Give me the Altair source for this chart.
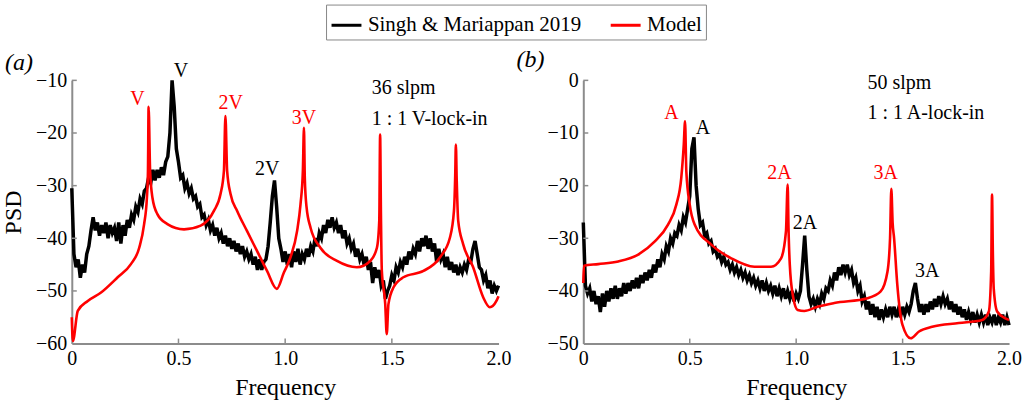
import altair as alt
import pandas as pd

SERIES = ["Singh & Mariappan 2019", "Model"]
COLORS = ["#000000", "#ff0000"]
FONT = "Liberation Serif"

# Experimental PSD (black), sampled every 0.01 in frequency from 0 to 2.0
black_a = [
    -30.5, -43.0, -45.5, -44.0, -47.5, -45.0, -46.5, -43.0, -41.5, -38.5,
    -36.0, -38.5, -37.0, -39.5, -37.5, -39.0, -37.0, -40.0, -37.5, -39.0,
    -38.0, -40.5, -37.0, -41.0, -37.5, -39.5, -36.5, -38.0, -35.5, -36.5,
    -34.0, -35.0, -32.5, -33.5, -31.0, -30.5, -28.5, -29.5, -27.0, -29.0,
    -27.0, -28.5, -26.5, -28.0, -25.5, -24.5, -20.0, -10.0, -15.0, -23.0,
    -25.5, -28.5, -28.0, -30.5, -29.5, -31.5, -30.5, -32.5, -32.0, -34.0,
    -33.5, -36.0, -35.5, -37.5, -36.5, -38.5, -37.5, -39.5, -38.0, -40.0,
    -39.0, -41.0, -39.5, -41.5, -40.0, -42.0, -40.5, -42.5, -41.0, -43.0,
    -41.5, -43.5, -42.5, -44.0, -43.0, -45.0, -43.5, -46.0, -44.0, -46.0,
    -44.5, -44.0, -41.5, -37.0, -32.0, -29.0, -34.0, -40.0, -42.0, -44.5,
    -42.5, -45.0, -43.0, -45.5, -42.5, -44.5, -42.0, -45.0, -43.0, -44.0,
    -42.0, -43.5, -41.5, -42.5, -40.0, -41.5, -39.0, -40.0, -37.5, -39.0,
    -36.5, -38.0, -36.0, -38.0, -37.0, -39.0, -37.5, -40.0, -38.5, -41.0,
    -40.0, -42.0, -41.0, -43.5, -42.0, -44.0, -43.0, -45.0, -43.5, -46.0,
    -44.5, -48.5, -45.5, -47.5, -46.0, -49.0, -48.0, -51.5, -50.0, -49.0,
    -47.0, -48.0, -45.5, -46.5, -44.5, -45.5, -43.5, -45.0, -42.5, -44.0,
    -42.0, -43.0, -40.5, -42.5, -40.0, -41.5, -39.5, -42.0, -40.0, -42.5,
    -41.0, -44.5, -42.0, -44.0, -43.0, -45.5, -43.5, -46.0, -44.5, -46.5,
    -45.0, -47.0, -45.5, -46.5, -45.0, -46.0, -44.0, -44.5, -42.0, -40.5,
    -43.0, -45.5, -46.0, -48.0, -47.0, -49.5, -48.0, -50.5, -49.0, -50.0,
    -49.0,
]

black_b = [
    -27.0, -39.0, -40.5, -39.5, -42.0, -40.0, -42.5, -41.0, -44.0, -40.5,
    -43.0, -40.0, -42.0, -39.5, -41.5, -39.0, -41.5, -39.5, -41.0, -38.5,
    -40.5, -38.5, -40.0, -38.0, -39.5, -37.5, -39.5, -37.0, -38.5, -36.5,
    -38.0, -36.0, -37.5, -35.0, -36.5, -34.0, -35.5, -33.0, -34.0, -31.5,
    -32.5, -30.0, -31.0, -29.0, -29.5, -27.5, -28.5, -26.0, -27.0, -24.5,
    -22.0, -13.0, -10.8, -20.0, -24.5, -27.5, -27.0, -29.5, -29.0, -31.0,
    -30.5, -32.5, -32.0, -33.5, -33.0, -34.5, -33.5, -35.0, -34.5, -36.0,
    -35.0, -36.5, -35.5, -37.0, -36.0, -37.5, -36.5, -38.0, -37.0, -38.5,
    -37.5, -39.0, -38.0, -39.5, -38.0, -40.0, -38.5, -40.0, -39.0, -40.5,
    -39.0, -41.0, -39.5, -41.0, -39.5, -41.5, -40.0, -41.5, -40.0, -42.0,
    -40.5, -41.5, -40.0, -35.0, -29.5, -36.0, -41.0, -42.5, -41.5, -43.0,
    -41.5, -42.5, -40.5, -41.5, -39.5, -40.0, -38.0, -39.0, -36.5, -38.0,
    -35.5, -37.0, -35.0, -36.5, -35.0, -37.0, -36.0, -38.5, -37.5, -40.0,
    -39.0, -42.0, -41.0, -43.5, -42.0, -44.5, -42.5, -45.0, -43.0, -45.5,
    -43.5, -45.0, -43.5, -45.0, -43.0, -44.5, -43.0, -45.0, -43.5, -45.0,
    -43.0, -44.5, -43.0, -44.0, -42.5, -40.0, -38.5, -41.5, -44.0, -42.5,
    -44.5, -42.5, -44.0, -42.0, -43.5, -41.5, -43.0, -41.0, -42.5, -41.0,
    -42.5, -41.5, -43.5, -42.0, -44.0, -42.5, -44.5, -43.0, -45.0, -43.5,
    -45.5, -44.0, -45.5, -44.0, -46.0, -44.5, -46.0, -44.5, -46.0, -44.5,
    -46.5, -45.0, -46.0, -44.5, -46.5, -45.0, -46.0, -44.5, -46.5, -45.0,
    -46.5,
]

# Model PSD (red)
model_a_f = [0.0, 0.005, 0.028, 0.075, 0.137, 0.215, 0.277, 0.316, 0.339, 0.352,
             0.357, 0.360, 0.367, 0.378, 0.401, 0.448, 0.526, 0.604, 0.666, 0.697,
             0.713, 0.720, 0.728, 0.744, 0.775, 0.821, 0.868, 0.915, 0.961, 0.994,
             1.025, 1.056, 1.072, 1.083, 1.088, 1.092, 1.100, 1.119, 1.165, 1.243,
             1.336, 1.399, 1.430, 1.441, 1.445, 1.449, 1.453, 1.469, 1.476, 1.484,
             1.508, 1.554, 1.648, 1.726, 1.772, 1.791, 1.797, 1.800, 1.804, 1.811,
             1.834, 1.881, 1.928, 1.959, 1.990, 2.0]
model_a_v = [-55.0, -59.5, -53.8, -51.9, -50.3, -47.4, -44.9, -41.8, -37.3, -32.3,
             -27.2, -15.0, -27.2, -32.3, -35.4, -37.3, -38.3, -37.6, -34.8, -31.6,
             -27.2, -16.8, -27.2, -31.6, -34.8, -38.6, -42.4, -46.2, -49.6, -46.5,
             -43.6, -38.6, -33.5, -27.2, -19.0, -28.5, -34.0, -38.0, -41.8, -44.3,
             -45.5, -44.3, -41.8, -36.7, -20.3, -36.0, -46.2, -52.5, -58.2, -52.5,
             -49.3, -47.4, -46.2, -43.6, -39.9, -34.8, -28.0, -22.2, -29.0, -36.7,
             -41.1, -45.5, -51.2, -53.1, -51.9, -51.0]

model_b_f = [0.0, 0.003, 0.07, 0.164, 0.258, 0.336, 0.398, 0.437, 0.460, 0.472,
             0.478, 0.484, 0.500, 0.523, 0.601, 0.695, 0.804, 0.882, 0.929, 0.952,
             0.960, 0.964, 0.970, 0.985, 1.007, 1.038, 1.100, 1.179, 1.335, 1.397,
             1.429, 1.441, 1.447, 1.453, 1.460, 1.475, 1.499, 1.538, 1.577, 1.639,
             1.764, 1.874, 1.905, 1.916, 1.920, 1.924, 1.928, 1.944, 1.983, 2.0]
model_b_v = [-38.5, -35.2, -34.9, -34.4, -33.1, -30.6, -27.4, -23.6, -18.6, -12.2,
             -7.8, -17.3, -23.6, -27.4, -31.2, -33.8, -35.4, -35.4, -33.8, -28.7,
             -19.8, -28.0, -35.0, -41.0, -43.6, -43.8, -43.0, -42.3, -41.4, -40.1,
             -36.3, -30.0, -20.6, -27.0, -30.0, -38.8, -46.4, -49.0, -47.7, -46.8,
             -46.1, -45.5, -43.9, -36.3, -21.7, -33.0, -39.5, -43.9, -45.2, -45.5]

# Peak labels
peaks_a_text = ["V", "V", "2V", "2V", "3V"]
peaks_a_f = [0.308, 0.512, 0.745, 0.916, 1.088]
peaks_a_v = [-13.6, -8.3, -14.3, -26.9, -17.1]
peaks_a_c = ["red", "black", "red", "black", "red"]

peaks_b_text = ["A", "A", "2A", "2A", "3A", "3A"]
peaks_b_f = [0.414, 0.562, 0.921, 1.041, 1.421, 1.616]
peaks_b_v = [-6.2, -9.1, -17.6, -27.1, -17.6, -36.3]
peaks_b_c = ["red", "black", "red", "black", "red", "black"]

notes_a_text = ["36 slpm", "1 : 1 V-lock-in"]
notes_a_f = [1.406, 1.406]
notes_a_v = [-11.5, -17.4]
notes_b_text = ["50 slpm", "1 : 1 A-lock-in"]
notes_b_f = [1.335, 1.335]
notes_b_v = [-0.5, -6.2]

x_ticks = [0, 0.5, 1.0, 1.5, 2.0]
y_ticks_a = [-60, -50, -40, -30, -20, -10]
y_ticks_b = [-50, -40, -30, -20, -10, 0]

W_A, W_B, H = 428, 427, 264
AXIS_GRAY = "#8c8c8c"


def panel(black, mf, mv, ydom, yticks, ptext, pf, pv, pc, ntext, nf, nv, label, label_dy,
          ytitle, width):
    freq = [round(i * 0.01, 2) for i in range(len(black))]
    dfb = pd.DataFrame({"f": freq, "v": black, "s": SERIES[0]})
    dfm = pd.DataFrame({"f": mf, "v": mv, "s": SERIES[1]})
    dfp = pd.DataFrame({"f": pf, "v": pv, "t": ptext, "c": pc})
    dfn = pd.DataFrame({"f": nf, "v": nv, "t": ntext})
    dfxt = pd.DataFrame({"f": x_ticks[1:-1]})
    dfyt = pd.DataFrame({"v": yticks[1:]})

    xs = alt.Scale(domain=[0, 2], nice=False, zero=False)
    ys = alt.Scale(domain=ydom, nice=False, zero=False)
    x = alt.X("f:Q", scale=xs, title="Frequency", axis=alt.Axis(
        values=x_ticks, labelExpr="datum.value == 0 ? '0' : format(datum.value, '.1f')",
        ticks=False, grid=False, domainColor=AXIS_GRAY, domainWidth=2,
        labelFont=FONT, labelFontSize=20, labelColor="black", labelFlush=False,
        labelPadding=5, titleFont=FONT, titleFontSize=24, titleFontWeight="normal",
        titleColor="black", titlePadding=7))
    yargs = dict(values=yticks, format="d", ticks=False, grid=False,
                 domainColor=AXIS_GRAY, domainWidth=2, labelFont=FONT,
                 labelFontSize=20, labelColor="black", labelPadding=5,
                 labelFlush=False,
                 titleFont=FONT, titleFontSize=24, titleFontWeight="normal",
                 titleColor="black", titlePadding=10)
    y = alt.Y("v:Q", scale=ys, title=ytitle if ytitle else None, axis=alt.Axis(**yargs))
    color = alt.Color("s:N", scale=alt.Scale(domain=SERIES, range=COLORS), legend=alt.Legend(
        title=None, orient="none", legendX=255, legendY=-76, direction="horizontal",
        symbolType="stroke", symbolSize=900, symbolStrokeWidth=3,
        labelFont=alt.ExprRef(expr="'Liberation Serif'"),
        labelFontSize=alt.ExprRef(expr="21"),
        labelColor="black", labelLimit=400,
        strokeColor="#888888", padding=4, columnPadding=22, labelOffset=5))

    black_line = alt.Chart(dfb).mark_line(strokeWidth=3.5, strokeJoin="miter").encode(
        x=x, y=y, color=color)
    red_line = alt.Chart(dfm).mark_line(strokeWidth=2.6, interpolate="monotone").encode(
        x="f:Q", y="v:Q", color=color)
    xt = alt.Chart(dfxt).mark_rule(color=AXIS_GRAY, strokeWidth=1.5).encode(
        x="f:Q", y=alt.value(H), y2=alt.value(H - 5))
    yt = alt.Chart(dfyt).mark_rule(color=AXIS_GRAY, strokeWidth=1.5).encode(
        y="v:Q", x=alt.value(0), x2=alt.value(5))
    peaks = alt.Chart(dfp).mark_text(font=FONT, fontSize=20, baseline="middle", align="center").encode(
        x="f:Q", y="v:Q", text="t:N", color=alt.Color("c:N", scale=None, legend=None))
    notes = alt.Chart(dfn).mark_text(font=FONT, fontSize=20, baseline="middle", align="left",
                                     color="black").encode(x="f:Q", y="v:Q", text="t:N")
    return alt.layer(black_line, red_line, xt, yt, peaks, notes).properties(
        width=width, height=H,
        title=alt.TitleParams(label, anchor="start", frame="group", dx=-67, dy=label_dy,
                              font=FONT, fontSize=24, fontStyle="italic",
                              fontWeight="normal", color="black", offset=0))


left = panel(black_a, model_a_f, model_a_v, [-60, -10], y_ticks_a,
             peaks_a_text, peaks_a_f, peaks_a_v, peaks_a_c,
             notes_a_text, notes_a_f, notes_a_v, "(a)", 14, "PSD", W_A)
right = panel(black_b, model_b_f, model_b_v, [-50, 0], y_ticks_b,
              peaks_b_text, peaks_b_f, peaks_b_v, peaks_b_c,
              notes_b_text, notes_b_f, notes_b_v, "(b)", 2, None, W_B)

chart = alt.hconcat(left, right, spacing=85, bounds="flush").resolve_scale(
    x="independent", y="independent", color="shared").configure(
    font=FONT,
    view=alt.ViewConfig(stroke=None),
    legend=alt.LegendConfig(labelFont=FONT, labelFontSize=21, labelColor="black"),
).properties(
    padding={"left": 1, "top": 3, "right": 5, "bottom": 5}, background="white")

chart.save("out.html", embed_options={"renderer": "svg", "actions": False})
